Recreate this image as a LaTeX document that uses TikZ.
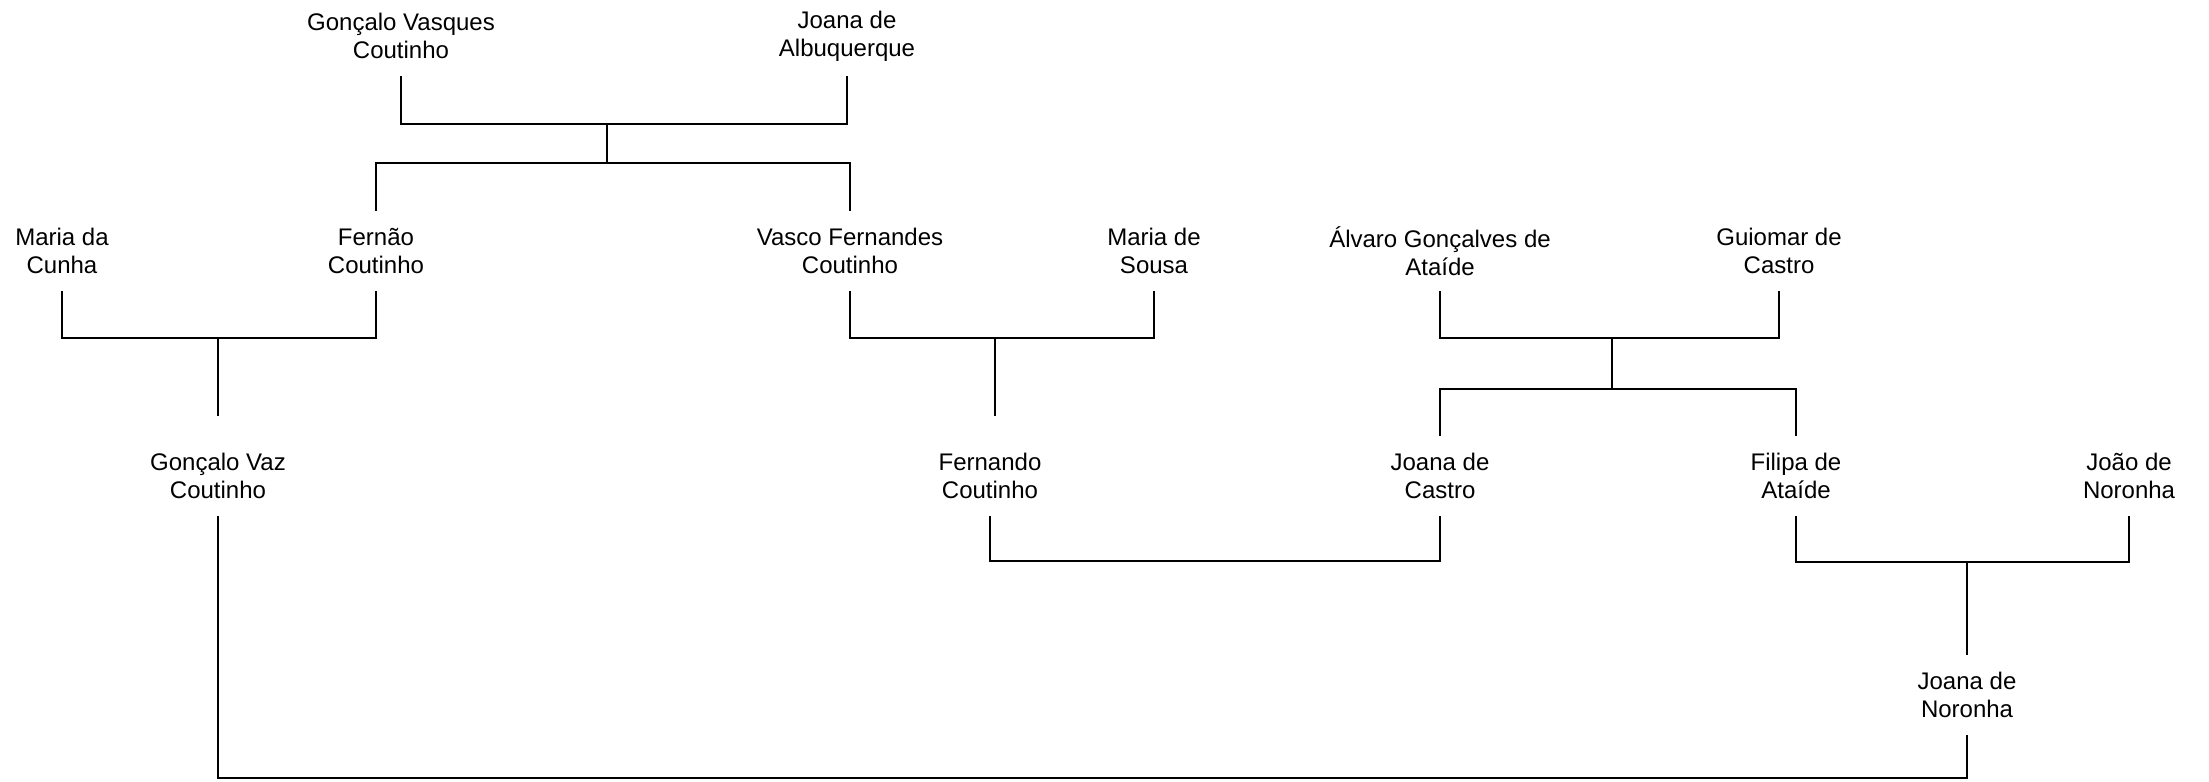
\documentclass[tikz,border=0pt]{standalone}
\usepackage{fontspec}
\setmainfont{Liberation Sans}
\usetikzlibrary{positioning,calc}

\tikzset{
	person/.style={align=center, minimum height=40pt, inner sep=1pt, font=\fontsize{12}{14}\selectfont},
	tie/.style={draw=black, line width=0.55pt},
	stem/.style={tie, shorten >=10pt}
}

\begin{document}
\begin{tikzpicture}[x=0.5pt,y=0.5pt,yscale=-1,xscale=1]
	\useasboundingbox (0,0) rectangle (2209,781);
	
	% Text Node: first generation
	\node [person] (gvc) at (401,36) {Gonçalo Vasques\\Coutinho};
	\node [person] (jda) at (847,36) {Joana de\\Albuquerque};
	% Text Node: second generation
	\node [person] (mdc) at (62,251) {Maria da\\Cunha};
	\node [person] (fc) at (376,251) {Fernão\\Coutinho};
	\node [person] (vfc) at (850,251) {Vasco Fernandes\\Coutinho};
	\node [person] (mds) at (1154,251) {Maria de\\Sousa};
	\node [person] (agc) at (1440,251) {Álvaro Gonçalves de\\Ataíde};
	\node [person] (gdc) at (1779,251) {Guiomar de\\Castro};
	% Text Node: third generation
	\node [person] (gvz) at (218,476) {Gonçalo Vaz\\Coutinho};
	\node [person] (fco) at (990,476) {Fernando\\Coutinho};
	\node [person] (jdc) at (1440,476) {Joana de\\Castro};
	\node [person] (fda) at (1796,476) {Filipa de\\Ataíde};
	\node [person] (jno) at (2129,476) {João de\\Noronha};
	% Text Node: fourth generation
	\node [person] (jdn) at (1967,695) {Joana de\\Noronha};
	
	% Marriage points
	\coordinate (m1) at (607,124);
	\coordinate (c1) at (607,163);
	\coordinate (m2) at (218,338);
	\coordinate (m3) at (995,338);
	\coordinate (m4) at (1612,338);
	\coordinate (c4) at (1612,389);
	\coordinate (m5) at (1215,561);
	\coordinate (m6) at (1967,562);
	\coordinate (m7) at (1967,778);
	
	% Straight Lines
	\draw [tie] (gvc.south) |- (m1) -| (jda.south);
	\draw [tie] (m1) -- (c1);
	\draw [tie] (fc.north) |- (c1) -| (vfc.north);
	\draw [tie] (mdc.south) |- (m2) -| (fc.south);
	\draw [stem] (m2) -- (gvz.north);
	\draw [tie] (vfc.south) |- (m3) -| (mds.south);
	\draw [stem] (m3) -- (m3 |- fco.north);
	\draw [tie] (agc.south) |- (m4) -| (gdc.south);
	\draw [tie] (m4) -- (c4);
	\draw [tie] (jdc.north) |- (c4) -| (fda.north);
	\draw [tie] (fco.south) |- (m5) -| (jdc.south);
	\draw [tie] (fda.south) |- (m6) -| (jno.south);
	\draw [tie] (m6) -- (jdn.north);
	\draw [tie] (gvz.south) |- (m7) -- (jdn.south);
	
\end{tikzpicture}
\end{document}
